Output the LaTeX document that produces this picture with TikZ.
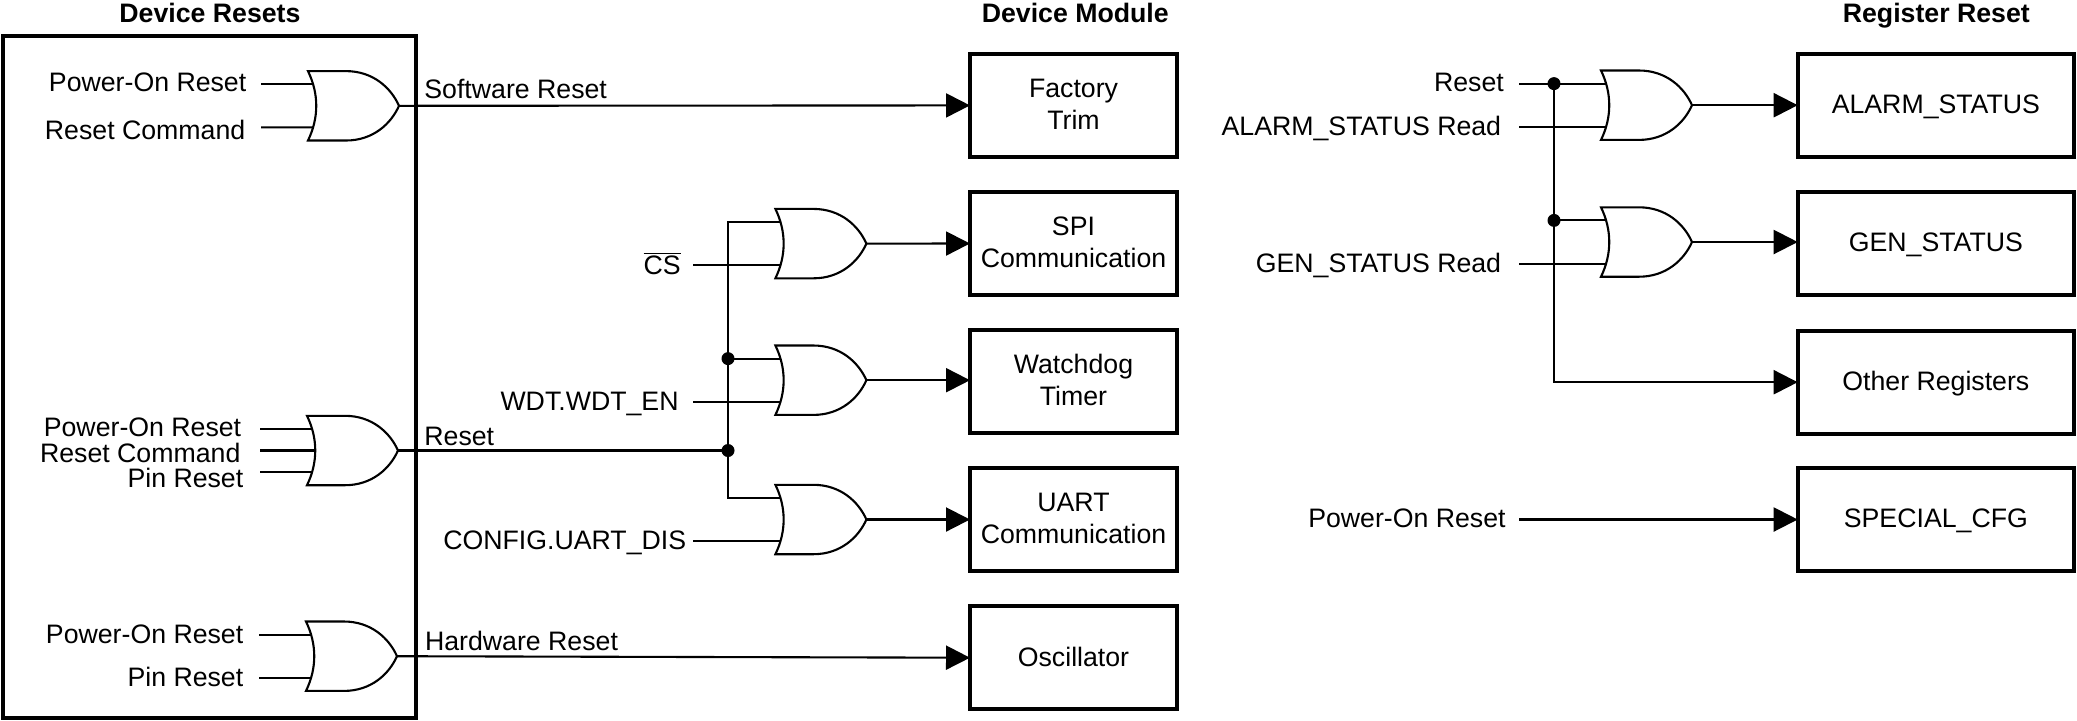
\documentclass[tikz,border=0pt]{standalone}
\usepackage{fontspec}
\setmainfont{Liberation Sans}
\usetikzlibrary{arrows.meta}
\newcommand\liftline{\rule[-1.2pt]{0pt}{1pt}}
\tikzset{
  every node/.style={font=\fontsize{13.35}{16}\selectfont},
  wire/.style={line width=1.05pt,line join=miter},
  feed/.style={wire,-{Triangle[length=12pt,width=12pt]}},
  modbox/.style={draw,line width=1.9pt,rectangle,outer sep=0pt,inner sep=0pt,align=center,minimum width=103.5pt,minimum height=51.5pt},
  modone/.style={modbox,text height=9.6pt,text depth=1pt},
  regbox/.style={modbox,minimum width=138.15pt,text height=9.5pt,text depth=1.5pt},
  framebox/.style={draw,line width=1.9pt,rectangle,outer sep=0pt,minimum width=206.2pt,minimum height=340.85pt},
  rlab/.style={inner sep=0pt,anchor=base east},
  llab/.style={inner sep=0pt,anchor=base west},
  head/.style={inner sep=0pt,anchor=base,font=\fontsize{13.35}{16}\selectfont\bfseries},
  junction/.style={circle,fill=black,inner sep=0pt,outer sep=0pt,minimum size=6.5pt},
  orgate/.pic={
    \draw[wire] (0,34.7) -- (38,34.7) .. controls (65,34.7) and (83,18) .. (91,0)
      .. controls (83,-18) and (65,-34.7) .. (38,-34.7) -- (0,-34.7)
      .. controls (11,-12) and (11,12) .. (0,34.7) -- cycle;
    \coordinate (-a) at (5.3,-21.6);
    \coordinate (-m) at (8.2,0);
    \coordinate (-b) at (5.3,21.6);
    \coordinate (-o) at (91,0);
  }
}
\begin{document}
\begin{tikzpicture}[x=0.5pt,y=-0.5pt]
\useasboundingbox (0,-1.2) rectangle (2077,718.8);

% headings
\node[head] (hres) at (210,21.7) {Device Resets};
\node[head] (hmod) at (1075.3,21.7) {Device Module};
\node[head] (hreg) at (1936.3,21.7) {Register Reset};

% frame
\node[framebox] (frame) at (209.5,375.85) {};

% gates
\pic (g1) at (308,104.6) {orgate};
\pic (g2) at (307,449.3) {orgate};
\pic (g3) at (306,655) {orgate};
\pic (gs) at (775.4,242.4) {orgate};
\pic (gw) at (775.4,379) {orgate};
\pic (gu) at (775.4,518.3) {orgate};
\pic (ga) at (1601,104) {orgate};
\pic (gg) at (1601,240.8) {orgate};

% module boxes
\node[modbox] (factory) at (1073.5,104.2) {Factory\\Trim\liftline};
\node[modbox] (spi) at (1073.5,242.3) {SPI\\Communication\liftline};
\node[modbox] (wdog) at (1073.5,380.3) {Watchdog\\Timer\liftline};
\node[modbox] (uart) at (1073.5,518.3) {UART\\Communication\liftline};
\node[modone] (osc) at (1073.5,656.5) {Oscillator};

% register boxes
\node[regbox] (alarm) at (1935.85,104.2) {ALARM\_STATUS};
\node[regbox] (gen) at (1935.85,242.3) {GEN\_STATUS};
\node[regbox] (other) at (1935.85,381) {Other Registers};
\node[regbox] (special) at (1935.85,518.3) {SPECIAL\_CFG};

% input labels, device resets
\node[rlab] (l1a) at (246.7,90.7) {Power-On Reset};
\node[rlab] (l1b) at (245.7,138) {Reset Command};
\node[rlab] (l2a) at (241.6,435) {Power-On Reset};
\node[rlab] (l2m) at (240.8,461) {Reset Command};
\node[rlab] (l2b) at (243.7,486.7) {Pin Reset};
\node[rlab] (l3a) at (243.7,642.3) {Power-On Reset};
\node[rlab] (l3b) at (243.7,685) {Pin Reset};
% output labels
\node[llab] (lsw) at (424,97.7) {Software Reset};
\node[llab] (lrs) at (424,444.6) {Reset};
\node[llab] (lhw) at (424.7,649.3) {Hardware Reset};
% module inputs
\node[rlab] (lcs) at (681.2,273.3) {$\overline{\mbox{CS}}$};
\node[rlab] (lwd) at (678.9,409.3) {WDT.WDT\_EN};
\node[rlab] (lua) at (686.5,548) {CONFIG.UART\_DIS};
% register inputs
\node[rlab] (lrr) at (1504.2,90.7) {Reset};
\node[rlab] (lal) at (1501.5,134.4) {ALARM\_STATUS Read};
\node[rlab] (lgn) at (1501.5,271.7) {GEN\_STATUS Read};
\node[rlab] (lpo) at (1506,526) {Power-On Reset};

% free ends of the input wires
\coordinate (i1a) at (261,83);
\coordinate (i1b) at (261,126.2);
\coordinate (i2a) at (260,427.7);
\coordinate (i2m) at (260,449.3);
\coordinate (i2b) at (260,470.9);
\coordinate (i3a) at (259,633.4);
\coordinate (i3b) at (259,676.6);
\coordinate (ics) at (693,264);
\coordinate (iwd) at (693,400.6);
\coordinate (iua) at (693,539.9);
\coordinate (irr) at (1519,82.4);
\coordinate (ial) at (1519,125.6);
\coordinate (ign) at (1519,262.4);
\coordinate (ipo) at (1519,518.3);

% junctions
\node[junction] (jr) at (728,449.3) {};
\node[junction] (jw) at (728,357.4) {};
\node[junction] (ja) at (1554,82.4) {};
\node[junction] (jg) at (1554,219.2) {};

% input wires
\draw[wire] (i1a) -- (g1-a);
\draw[wire] (i1b) -- (g1-b);
\draw[wire] (i2a) -- (g2-a);
\draw[wire] (i2m) -- (g2-m);
\draw[wire] (i2b) -- (g2-b);
\draw[wire] (i3a) -- (g3-a);
\draw[wire] (i3b) -- (g3-b);
\draw[wire] (ics) -- (gs-b);
\draw[wire] (iwd) -- (gw-b);
\draw[wire] (iua) -- (gu-b);
\draw[wire] (ial) -- (ga-b);
\draw[wire] (ign) -- (gg-b);

% reset bus, device modules
\draw[wire] (g2-o) -- (jr.center);
\draw[wire] (gs-a) -| (jr.center);
\draw[wire] (gu-a) -| (jr.center);
\draw[wire] (jw.center) -- (gw-a);

% reset bus, registers
\draw[wire] (irr) -- (ga-a);
\draw[wire] (jg.center) -- (gg-a);
\draw[feed] (ja.center) |- (other.west);

% outputs
\draw[feed] (g1-o) -- (factory.west);
\draw[feed] (gs-o) -- (spi.west);
\draw[feed] (gw-o) -- (wdog.west |- gw-o);
\draw[feed] (gu-o) -- (uart.west);
\draw[feed] (g3-o) -- (osc.west);
\draw[feed] (ga-o) -- (alarm.west |- ga-o);
\draw[feed] (gg-o) -- (gen.west |- gg-o);
\draw[feed] (ipo) -- (special.west);
\end{tikzpicture}
\end{document}
